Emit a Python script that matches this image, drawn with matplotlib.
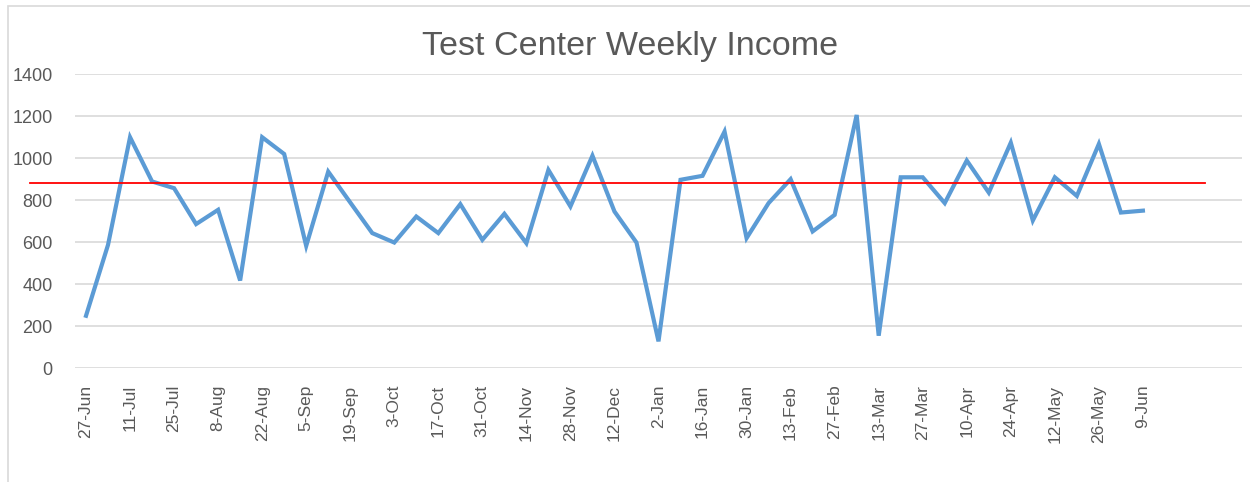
#!/usr/bin/env python3
# weekly income line chart, Excel look
import matplotlib as mpl

mpl.rcParams["font.family"] = ["Liberation Sans", "DejaVu Sans"]

from matplotlib import pyplot as plt
from matplotlib.patches import Rectangle

# ─── data ────────────────────────────────────────────────────────────
INCOME = [
    249, 587, 1100, 889, 857, 686, 754, 417, 1100, 1020,
    582, 936, 789, 643, 598, 722, 643, 781, 611, 735,
    595, 944, 770, 1012, 746, 598, 127, 897, 916, 1127,
    619, 786, 900, 651, 730, 1206, 154, 909, 909, 786,
    989, 836, 1074, 703, 909, 820, 1068, 741, 750,
]
TICK_LABELS = [
    "27-Jun", "11-Jul", "25-Jul", "8-Aug", "22-Aug", "5-Sep", "19-Sep",
    "3-Oct", "17-Oct", "31-Oct", "14-Nov", "28-Nov", "12-Dec", "2-Jan",
    "16-Jan", "30-Jan", "13-Feb", "27-Feb", "13-Mar", "27-Mar", "10-Apr",
    "24-Apr", "12-May", "26-May", "9-Jun",
]
AVERAGE = 880
N_CATEGORIES = 53  # category axis is wider than the data
TITLE = "Test Center Weekly Income"

# ─── styling ─────────────────────────────────────────────────────────
BLUE = "#5b9bd5"
GRID = "#d9d9d9"
TXT = "#595959"

fig = plt.figure(figsize=(12.5, 4.82), dpi=100)
ax = fig.add_axes([0.06, 0.2365, 0.9336, 0.6094])

# chart-area frame (cropped at right/bottom)
fig.patches.append(
    Rectangle((8 / 1250, -0.05), 1.1, 1 - 6 / 482 + 0.05,
              transform=fig.transFigure, fill=False,
              edgecolor=GRID, linewidth=1.2)
)

x = list(range(len(INCOME)))
ax.plot(x, INCOME, color=BLUE, linewidth=3, solid_joinstyle="miter", zorder=3)
ax.axhline(AVERAGE, xmin=-0.0386, xmax=0.968, color="#ff0000",
           linewidth=1.3, clip_on=False, zorder=4)

ax.set_xlim(-0.5, N_CATEGORIES - 0.5)
ax.set_ylim(0, 1400)
ax.set_yticks(range(0, 1401, 200))
ax.grid(axis="y", color=GRID, linewidth=1.2)
ax.set_axisbelow(True)
for s in ax.spines.values():
    s.set_visible(False)

ax.set_xticks(range(0, 2 * len(TICK_LABELS), 2))
ax.set_xticklabels(TICK_LABELS, rotation=90, ha="center", va="top")
ax.tick_params(axis="x", length=0, pad=12, labelsize=12.5, labelcolor=TXT)
ax.tick_params(axis="y", length=0, pad=16, labelsize=13, labelcolor=TXT)

fig.text(0.504, 1 - 46 / 482, TITLE, ha="center", va="center",
         fontsize=24.5, color=TXT)

fig.savefig("out.png", dpi=100)
